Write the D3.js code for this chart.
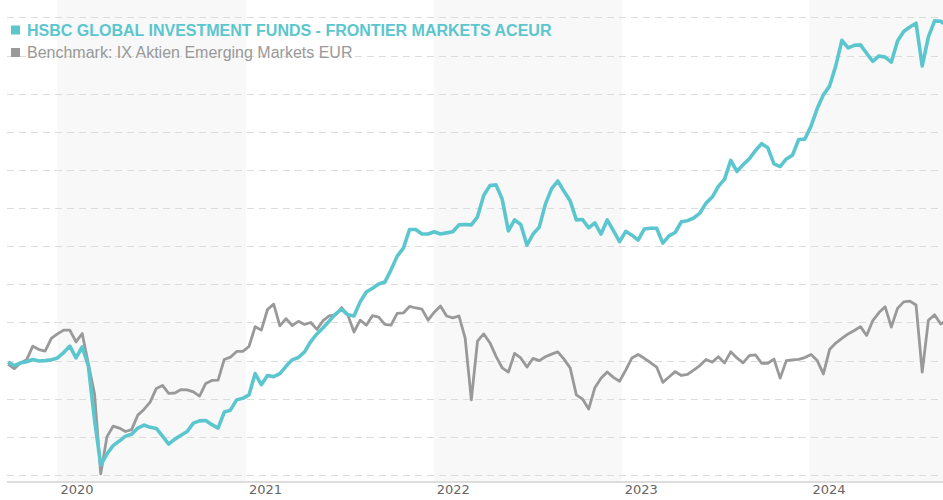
<!DOCTYPE html>
<html>
<head>
<meta charset="utf-8">
<script src="https://cdn.jsdelivr.net/npm/d3@7"></script>
<style>
  html, body { margin: 0; padding: 0; background: #fff; }
  svg { display: block; }
</style>
</head>
<body>
<svg id="chart" width="943" height="500"></svg>
<script>
// ---- data ----
const seriesNames = ["HSBC GLOBAL INVESTMENT FUNDS - FRONTIER MARKETS ACEUR", "Benchmark: IX Aktien Emerging Markets EUR"];
const startDate = "2019-09-27";   // first observation
const stepDays = 12;              // spacing between observations
const yearTicks = ["2020", "2021", "2022", "2023", "2024"];
const gridValues = [70, 80, 90, 100, 110, 120, 130, 140, 150, 160, 170, 180, 190];

const fundValues = [
  99.6, 98.7, 99.4, 99.7, 100.3, 99.9, 100.0, 100.2, 100.7, 102.1,
  103.8, 100.7, 103.6, 98.6, 84.4, 72.6, 75.5, 77.7, 78.9, 80.2,
  80.7, 82.3, 83.1, 82.5, 82.2, 80.2, 78.1, 79.4, 80.4, 81.4,
  83.6, 84.2, 84.3, 83.2, 82.3, 86.5, 87.0, 89.7, 90.1, 91.0,
  96.6, 93.7, 96.1, 95.8, 96.6, 98.5, 100.2, 100.8, 102.3, 105.0,
  107.0, 108.6, 110.4, 112.2, 113.5, 112.0, 111.7, 115.4, 118.0, 119.0,
  120.1, 120.6, 123.8, 127.4, 129.5, 134.4, 134.4, 133.2, 133.2, 133.8,
  133.2, 133.5, 133.8, 135.6, 135.7, 135.6, 137.7, 143.3, 145.9, 146.1,
  142.3, 134.0, 136.9, 135.7, 130.3, 133.2, 135.0, 141.1, 145.1, 147.1,
  144.4, 141.9, 136.9, 137.0, 134.8, 136.1, 133.2, 136.9, 134.1, 131.2,
  133.9, 132.9, 131.6, 134.5, 134.7, 134.7, 130.8, 132.7, 133.6, 136.4,
  136.7, 137.4, 138.7, 141.3, 142.9, 145.7, 147.6, 152.5, 149.6, 151.4,
  152.9, 155.1, 156.9, 155.8, 151.6, 150.9, 152.9, 153.9, 158.0, 158.1,
  161.5, 166.1, 169.7, 172.0, 177.3, 184.0, 182.0, 182.7, 182.8, 180.6,
  178.5, 179.9, 179.6, 178.3, 183.8, 186.3, 187.5, 188.5, 177.3, 184.9,
  189.1, 189.0, 187.8
];

const benchValues = [
  99.0, 97.9, 99.4, 100.2, 103.8, 102.9, 102.5, 105.8, 107.0, 108.0,
  108.0, 104.9, 107.1, 99.1, 91.2, 70.3, 80.0, 82.8, 82.3, 81.4,
  81.9, 85.7, 87.2, 89.1, 92.7, 93.5, 91.4, 91.5, 92.4, 92.3,
  91.8, 90.7, 94.0, 94.8, 94.9, 100.3, 100.9, 102.4, 102.4, 103.7,
  108.9, 108.0, 113.4, 114.8, 109.1, 111.0, 109.2, 110.3, 109.5, 110.0,
  108.2, 110.5, 111.7, 112.0, 113.9, 112.0, 107.5, 110.6, 109.3, 111.8,
  111.4, 109.5, 109.3, 112.4, 112.5, 114.2, 113.8, 113.5, 110.6, 112.7,
  114.3, 111.7, 111.2, 111.7, 105.9, 89.7, 105.1, 107.0, 104.7, 101.1,
  98.1, 97.0, 101.9, 100.7, 98.3, 100.6, 100.0, 101.0, 101.7, 102.3,
  100.4, 98.1, 91.0, 89.9, 87.3, 92.9, 95.4, 97.0, 95.6, 94.6,
  97.5, 100.7, 101.6, 100.6, 99.5, 98.3, 94.3, 95.7, 97.1, 96.1,
  96.4, 97.5, 98.7, 100.3, 99.6, 101.0, 99.4, 102.3, 100.7, 99.4,
  101.3, 101.5, 99.3, 99.3, 100.4, 95.4, 100.0, 100.2, 100.3, 100.8,
  101.6, 100.0, 96.5, 102.9, 104.6, 105.8, 107.0, 107.9, 108.9, 106.6,
  110.5, 112.6, 114.1, 108.8, 113.7, 115.4, 115.6, 114.6, 97.0, 110.6,
  112.0, 109.6, 110.6
];

const colors = ["#5cc6ce", "#999999"];

// ---- layout ----
const W = 943, H = 500;
const plotLeft = 7, plotRight = 943, plotBottom = 482;

const svg = d3.select("#chart");
const parse = d3.utcParse("%Y-%m-%d");
const start = parse(startDate);
const dates = fundValues.map((_, i) => d3.utcDay.offset(start, i * stepDays));

const x = d3.scaleUtc()
  .domain([parse("2020-01-01"), parse("2024-01-01")])
  .range([57.5, 809.5]);

const y = d3.scaleLinear()
  .domain([68.16, 194.58])
  .range([plotBottom, 0]);

// alternating year bands
const bandYears = [2020, 2022, 2024];
svg.append("g").selectAll("rect")
  .data(bandYears)
  .join("rect")
  .attr("x", d => x(new Date(Date.UTC(d, 0, 1))))
  .attr("width", d => Math.min(plotRight, x(new Date(Date.UTC(d + 1, 0, 1)))) - x(new Date(Date.UTC(d, 0, 1))))
  .attr("y", 0)
  .attr("height", plotBottom)
  .attr("fill", "#f8f8f8");

// horizontal dashed grid
svg.append("g").selectAll("line")
  .data(gridValues)
  .join("line")
  .attr("x1", plotLeft).attr("x2", plotRight)
  .attr("y1", d => Math.round(y(d)) + 0.5)
  .attr("y2", d => Math.round(y(d)) + 0.5)
  .attr("stroke", "#dcdcdc")
  .attr("stroke-width", 1)
  .attr("stroke-dasharray", "7,5");

// baseline
svg.append("line")
  .attr("x1", plotLeft).attr("x2", plotRight)
  .attr("y1", plotBottom).attr("y2", plotBottom)
  .attr("stroke", "#dddddd")
  .attr("stroke-width", 2);

// x axis labels
const axis = d3.axisBottom(x)
  .tickValues(yearTicks.map(t => parse(t + "-01-01")))
  .tickFormat(d3.utcFormat("%Y"))
  .tickSize(0)
  .tickPadding(0);
const gx = svg.append("g").attr("transform", `translate(0,${plotBottom})`).call(axis);
gx.select(".domain").remove();
gx.selectAll("text")
  .attr("text-anchor", "start")
  .attr("dx", 2.5)
  .attr("dy", 0)
  .attr("y", 12)
  .attr("font-family", "'DejaVu Sans', sans-serif")
  .attr("font-size", 13)
  .attr("fill", "#666");

// clip
svg.append("clipPath").attr("id", "clip")
  .append("rect").attr("x", plotLeft).attr("y", 0)
  .attr("width", plotRight - plotLeft).attr("height", H);

const line = d3.line()
  .x((d, i) => x(dates[i]))
  .y(d => y(d))
  .curve(d3.curveLinear);

const lines = svg.append("g").attr("clip-path", "url(#clip)");
lines.append("path")
  .datum(benchValues)
  .attr("d", line)
  .attr("fill", "none")
  .attr("stroke", colors[1])
  .attr("stroke-width", 2.8)
  .attr("stroke-linejoin", "round");
lines.append("path")
  .datum(fundValues)
  .attr("d", line)
  .attr("fill", "none")
  .attr("stroke", colors[0])
  .attr("stroke-width", 3.6)
  .attr("stroke-linejoin", "round");

// legend
const legend = svg.append("g").attr("font-family", "'Liberation Sans', Arial, sans-serif");
const legendRows = [
  { name: seriesNames[0], color: colors[0], weight: "bold", yy: 30 },
  { name: seriesNames[1], color: colors[1], weight: "normal", yy: 52.5 }
];
legendRows.forEach(r => {
  legend.append("rect")
    .attr("x", 11).attr("y", r.yy - 4.5)
    .attr("width", 9).attr("height", 9)
    .attr("fill", r.color);
  legend.append("text")
    .attr("x", 27).attr("y", r.yy + 5.8)
    .attr("font-size", 16)
    .attr("font-weight", r.weight)
    .attr("fill", r.color)
    .text(r.name);
});
</script>
</body>
</html>
